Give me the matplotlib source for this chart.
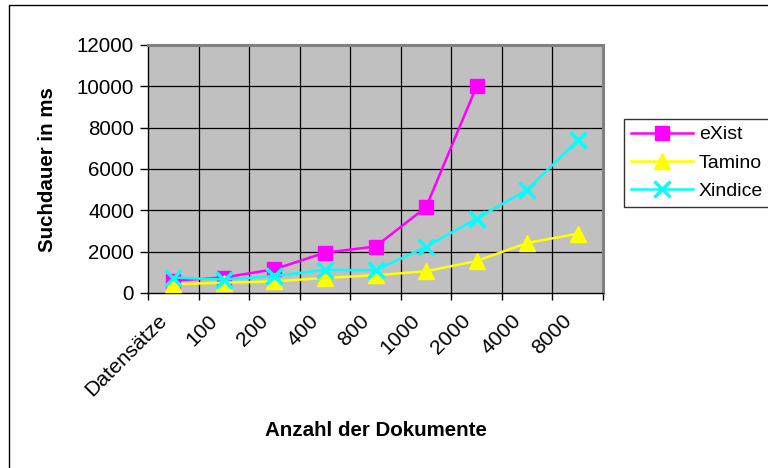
import matplotlib
matplotlib.use("Agg")
import matplotlib.pyplot as plt
import matplotlib.transforms as mtransforms
from matplotlib.patches import Rectangle
import numpy as np

plt.rcParams['font.family'] = ['Liberation Sans', 'DejaVu Sans']

categories = ["Datensätze", "100", "200", "400", "800", "1000", "2000", "4000", "8000"]
exist = [600, 750, 1150, 1950, 2250, 4150, 10000]
tamino = [420, 500, 560, 730, 860, 1050, 1550, 2420, 2870]
xindice = [750, 650, 820, 1120, 1100, 2230, 3600, 5000, 7380]
yticks = [0, 2000, 4000, 6000, 8000, 10000, 12000]

W, H = 768, 468
fig = plt.figure(figsize=(W / 100, H / 100), dpi=100)
ax = fig.add_axes([148 / W, 1 - 293 / H, 455 / W, 248 / H])
ax.set_facecolor('#C0C0C0')

n = len(categories)
x = np.arange(n)
ax.set_xlim(-0.5, n - 0.5)
ax.set_ylim(0, 12000)

ax.plot(x[:len(exist)], exist, color='#FF00FF', lw=1.8, marker='s', ms=10,
        mec='#FF00FF', mfc='#FF00FF', label='eXist', zorder=3)
ax.plot(x, tamino, color='#FFFF00', lw=1.8, marker='^', ms=12,
        mec='#FFFF00', mfc='#FFFF00', label='Tamino', zorder=4)
ax.plot(x, xindice, color='#00FFFF', lw=1.8, marker='x', ms=11, mew=2.5,
        mec='#00FFFF', label='Xindice', zorder=5)

# grid: horizontal at y ticks, vertical at category boundaries
for yv in yticks[1:-1]:
    ax.axhline(yv, color='black', lw=0.9, zorder=1)
for b in np.arange(0.5, n - 0.5, 1):
    ax.axvline(b, color='black', lw=0.9, zorder=1)

ax.set_yticks(yticks)
ax.set_yticklabels([str(v) for v in yticks], fontsize=14.8)
ax.tick_params(axis='y', direction='out', length=6, width=1, color='black', pad=4)

ax.set_xticks(np.arange(-0.5, n, 1), minor=False)
ax.set_xticklabels([])
ax.tick_params(axis='x', which='major', direction='out', length=5, width=1, color='black')
ax.set_xticks(x, minor=True)
ax.set_xticklabels(categories, minor=True, fontsize=15.2, rotation=45,
                   ha='right', va='top', rotation_mode='anchor')
ax.tick_params(axis='x', which='minor', length=0, pad=13)
offset = mtransforms.ScaledTranslation(-0.16, 0, fig.dpi_scale_trans)
for lab in ax.get_xticklabels(minor=True):
    lab.set_transform(lab.get_transform() + offset)

for s in ax.spines.values():
    s.set_color('#808080')
    s.set_linewidth(2.2)
ax.spines['left'].set_color('black')
ax.spines['left'].set_linewidth(1)
ax.spines['bottom'].set_color('black')
ax.spines['bottom'].set_linewidth(1)

fig.text(48 / W, 1 - 170 / H, 'Suchdauer in ms', rotation=90, fontsize=14.8,
         fontweight='bold', ha='center', va='center')
fig.text(375.5 / W, 1 - 431 / H, 'Anzahl der Dokumente', fontsize=14.8,
         fontweight='bold', ha='center', va='center')

leg = ax.legend(loc='upper left', bbox_to_anchor=(624 / W, 1 - 119 / H),
                bbox_transform=fig.transFigure, fontsize=14, frameon=True,
                fancybox=False, edgecolor='black', handlelength=3.2,
                handletextpad=0.3, labelspacing=0.55, borderpad=0.35,
                borderaxespad=0)
leg.get_frame().set_linewidth(1)

fig.patches.append(Rectangle((9 / W, -0.1), 2, 1 - 5 / H + 0.1,
                             transform=fig.transFigure, fill=False,
                             edgecolor='black', lw=1))

fig.savefig('out.png', dpi=100)
